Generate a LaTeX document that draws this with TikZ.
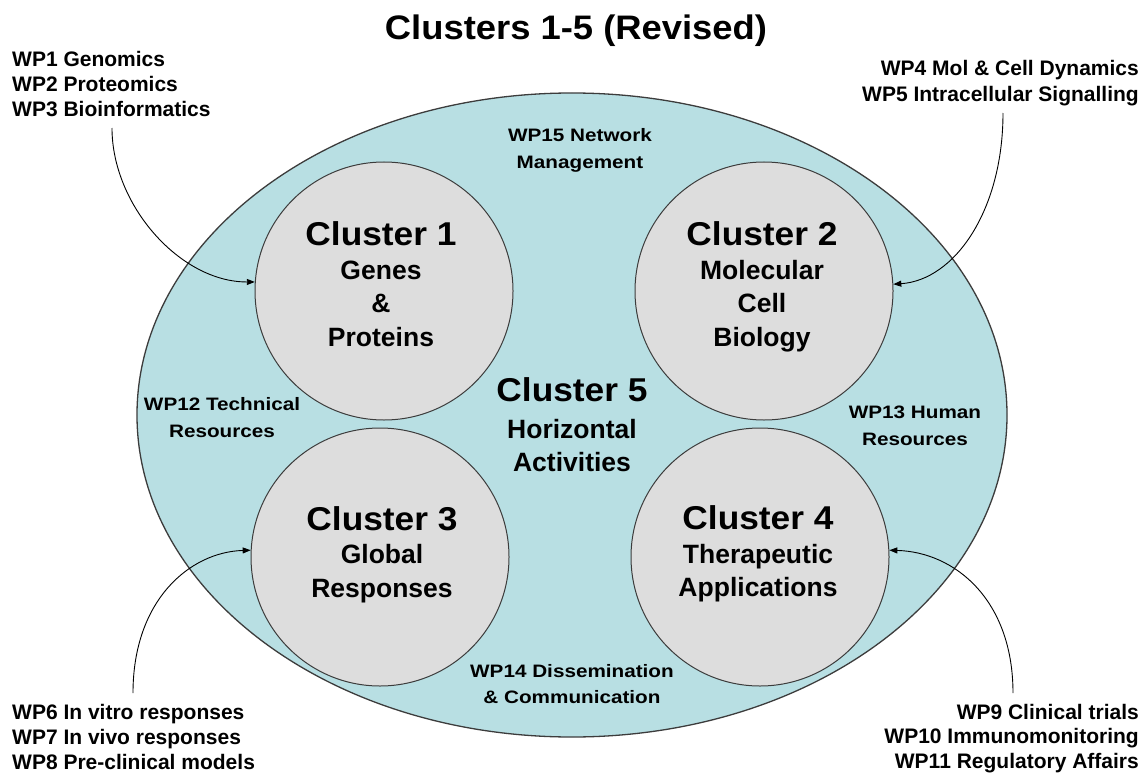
\documentclass[tikz,border=0pt]{standalone}
\usepackage{fontspec}
\setmainfont{Liberation Sans}
\newfontfamily\headfont{Liberation Sans}[FakeStretch=1.07]
\newfontfamily\wpfont{Liberation Sans}[FakeStretch=1.15]
\usetikzlibrary{shapes.geometric,arrows.meta}
\definecolor{outerfill}{RGB}{184,223,227}
\definecolor{innerfill}{RGB}{221,221,221}
\definecolor{edgecol}{RGB}{60,60,60}
\begin{document}
\begin{tikzpicture}[x=1bp,y=-1bp,
  titletext/.style={font=\headfont\bfseries\fontsize{34bp}{40bp}\selectfont, anchor=base, inner sep=0},
  headtext/.style={font=\headfont\bfseries\fontsize{33bp}{40bp}\selectfont, anchor=base, inner sep=0},
  subtext/.style={font=\bfseries\fontsize{26.5bp}{33bp}\selectfont, anchor=base, inner sep=0},
  wpin/.style={font=\wpfont\bfseries\fontsize{18bp}{26bp}\selectfont, anchor=base, inner sep=0},
  wpout/.style={font=\bfseries\fontsize{21bp}{25bp}\selectfont, inner sep=0},
  cluster/.style={circle, draw=edgecol, line width=1bp, fill=innerfill, minimum size=258bp, inner sep=0},
  outer/.style={ellipse, draw=edgecol, line width=1.3bp, fill=outerfill, minimum width=870bp, minimum height=644bp, inner sep=0},
  feed/.style={draw=black, line width=0.9bp, -{Triangle[length=8bp,width=6bp]}}
]
\fill[white] (0,0) rectangle (1148,777);
\useasboundingbox (0,0) rectangle (1148,777);

% title
\node[titletext] (title) at (576,40) {Clusters 1-5 (Revised)};

% outer ellipse and clusters
\node[outer] (c5) at (572,415) {};
\node[cluster] (c1) at (384,291) {};
\node[cluster] (c2) at (764,291) {};
\node[cluster] (c3) at (380,557) {};
\node[cluster] (c4) at (760,557) {};

% cluster texts
\node[headtext] (h1) at (381,245) {Cluster 1};
\node[subtext] (s1a) at (381,279) {Genes};
\node[subtext] (s1b) at (381,312) {\&};
\node[subtext] (s1c) at (381,346) {Proteins};

\node[headtext] (h2) at (762,245) {Cluster 2};
\node[subtext] (s2a) at (762,279) {Molecular};
\node[subtext] (s2b) at (762,312) {Cell};
\node[subtext] (s2c) at (762,346) {Biology};

\node[headtext] (h3) at (382,530) {Cluster 3};
\node[subtext] (s3a) at (382,563) {Global};
\node[subtext] (s3b) at (382,597) {Responses};

\node[headtext] (h4) at (758,529) {Cluster 4};
\node[subtext] (s4a) at (758,563) {Therapeutic};
\node[subtext] (s4b) at (758,596) {Applications};

\node[headtext] (h5) at (572,401) {Cluster 5};
\node[subtext] (s5a) at (572,438) {Horizontal};
\node[subtext] (s5b) at (572,471) {Activities};

% inner WP labels
\node[wpin] (wp15a) at (580,141) {WP15 Network};
\node[wpin] (wp15b) at (580,168) {Management};
\node[wpin] (wp12a) at (222,410) {WP12 Technical};
\node[wpin] (wp12b) at (222,437) {Resources};
\node[wpin] (wp13a) at (915,418) {WP13 Human};
\node[wpin] (wp13b) at (915,445) {Resources};
\node[wpin] (wp14a) at (572,677) {WP14 Dissemination};
\node[wpin] (wp14b) at (572,703) {\& Communication};

% corner WP labels
\node[wpout, anchor=base west] (wp1) at (12,67) {WP1 Genomics};
\node[wpout, anchor=base west] (wp2) at (12,92) {WP2 Proteomics};
\node[wpout, anchor=base west] (wp3) at (12,116) {WP3 Bioinformatics};

\node[wpout, anchor=base east] (wp4) at (1139,76) {WP4 Mol \& Cell Dynamics};
\node[wpout, anchor=base east] (wp5) at (1139,102) {WP5 Intracellular Signalling};

\node[wpout, anchor=base west] (wp6) at (12,719) {WP6 In vitro responses};
\node[wpout, anchor=base west] (wp7) at (12,744) {WP7 In vivo responses};
\node[wpout, anchor=base west] (wp8) at (12,769) {WP8 Pre-clinical models};

\node[wpout, anchor=base east] (wp9) at (1139,719) {WP9 Clinical trials};
\node[wpout, anchor=base east] (wp10) at (1139,743) {WP10 Immunomonitoring};
\node[wpout, anchor=base east] (wp11) at (1139,768) {WP11 Regulatory Affairs};

% feed arrows
\coordinate (a1) at (112,128);
\coordinate (a2) at (1003,113);
\coordinate (a3) at (133,693);
\coordinate (a4) at (1013,693);
\draw[feed] (a1) .. controls (112,205) and (180,282) .. (c1.176);
\draw[feed] (a2) .. controls (1003,210) and (955,280) .. (c2.3.5);
\draw[feed] (a3) .. controls (133,600) and (190,552) .. (c3.177);
\draw[feed] (a4) .. controls (1013,600) and (955,552) .. (c4.3);
\end{tikzpicture}
\end{document}
